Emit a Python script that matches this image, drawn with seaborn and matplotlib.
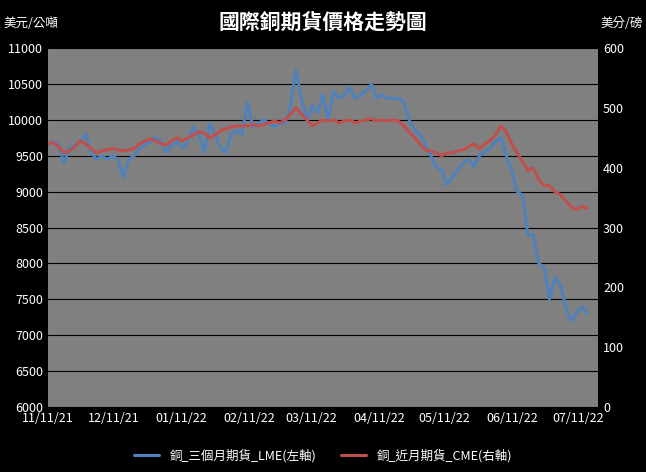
import numpy as np, pandas as pd, matplotlib
matplotlib.use("Agg")
import matplotlib.pyplot as plt, matplotlib.dates as mdates
import seaborn as sns

lme = [9650,9700,9650,9400,9600,9650,9700,9800,9550,9450,9500,9450,9500,
       9450,9200,9450,9500,9600,9650,9700,9750,9700,9550,9650,9700,
       9600,9700,9900,9800,9550,9950,9800,9600,9550,9800,9850,9800,
       10250,9900,9950,10000,9950,9900,9950,9950,10200,10700,10300,10000,10200,10100,10350,10000,
       10400,10300,10350,10450,10300,10350,10400,10500,10300,10350,10300,10300,
       10300,10250,10000,9850,9800,9650,9500,9350,9300,9100,9200,
       9300,9400,9450,9350,9500,9550,9600,9700,9750,9500,
       9300,9000,8950,8400,8400,8000,7950,7500,7800,7700,7400,7200,7300,7400,7300]
cme = [440,442,435,425,428,435,445,440,432,425,428,430,432,
       430,428,430,432,440,445,448,445,440,438,445,450,
       445,450,455,460,458,450,455,462,465,468,470,470,
       470,472,470,472,475,478,475,480,490,500,490,480,470,475,480,478,
       480,475,478,480,475,478,480,482,478,480,478,480,
       478,470,460,450,440,430,428,425,420,425,425,
       428,430,435,440,432,440,445,455,470,460,
       440,425,410,395,400,380,370,370,360,355,345,335,330,335,332]
tick_labels = ["11/11/21","12/11/21","01/11/22","02/11/22","03/11/22","04/11/22","05/11/22","06/11/22","07/11/22"]
start, end = pd.Timestamp("2021-11-11"), pd.Timestamp("2022-07-15")
dates = pd.to_datetime(np.linspace(start.value, end.value, len(lme)))
ticks = pd.to_datetime(tick_labels, format="%m/%d/%y")

sns.set_style("white")
plt.rcParams['font.family'] = ['Noto Sans CJK TC', 'DejaVu Sans']
fig = plt.figure(figsize=(6.46, 4.72), dpi=100, facecolor="black")
ax = fig.add_axes([0.074, 0.138, 0.852, 0.76])
ax.set_facecolor("#808080")
ax2 = ax.twinx()
sns.lineplot(x=dates, y=lme, ax=ax, color="#4F81BD", lw=2.2, label="銅_三個月期貨_LME(左軸)", legend=False)
sns.lineplot(x=dates, y=cme, ax=ax2, color="#C0504D", lw=2.2, label="銅_近月期貨_CME(右軸)", legend=False)
ax.set_ylim(6000, 11000); ax.set_yticks(range(6000, 11001, 500))
ax2.set_ylim(0, 600); ax2.set_yticks(range(0, 601, 100))
ax.set_xlim(start, pd.Timestamp("2022-07-20"))
ax.set_xticks(ticks); ax.set_xticklabels(tick_labels)
ax.set_xlabel(""); ax.set_ylabel(""); ax2.set_ylabel("")
ax.grid(axis="y", color="black", lw=0.8); ax.set_axisbelow(True)
for a in (ax, ax2):
    a.tick_params(colors="white", labelsize=9, length=0)
    for s in a.spines.values(): s.set_visible(False)
fig.text(0.5, 0.95, "國際銅期貨價格走勢圖", color="white", fontsize=15, fontweight="bold", ha="center", va="center")
fig.text(0.005, 0.95, "美元/公噸", color="white", fontsize=9, va="center")
fig.text(0.995, 0.95, "美分/磅", color="white", fontsize=9, va="center", ha="right")
h1, l1 = ax.get_legend_handles_labels(); h2, l2 = ax2.get_legend_handles_labels()
fig.legend(h1+h2, l1+l2, loc="center", bbox_to_anchor=(0.5, 0.035), ncol=2, frameon=False, fontsize=9, labelcolor="white")
fig.savefig("out.png", facecolor="black")
